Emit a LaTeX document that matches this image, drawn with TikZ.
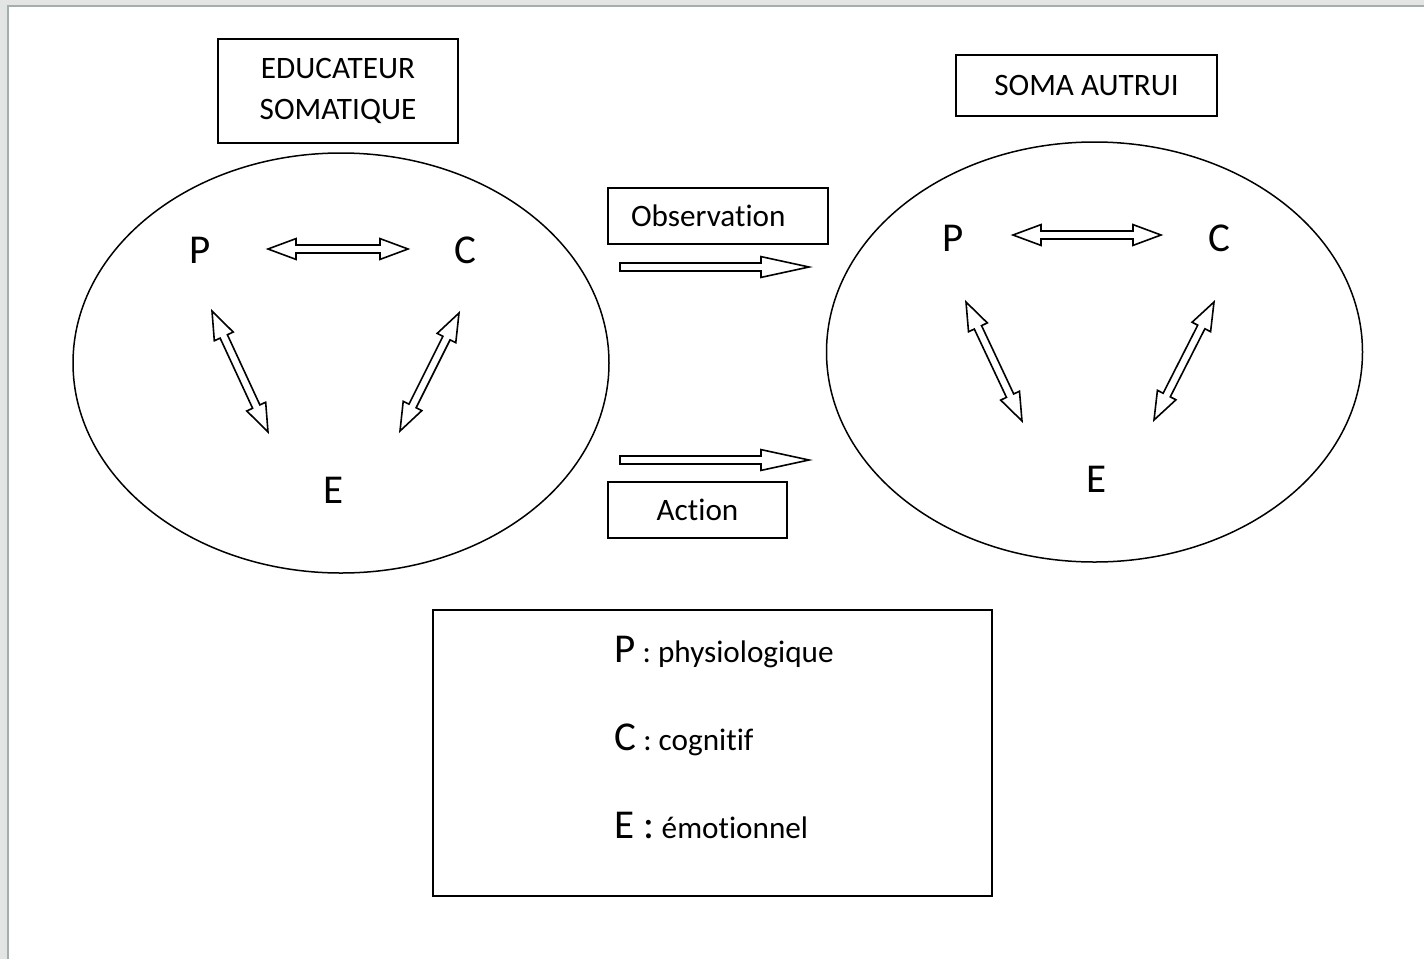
\documentclass[tikz,border=0pt]{standalone}
\usepackage{fontspec}
\setmainfont{Carlito}[RawFeature={-liga;-clig;-calt;-dlig}]
\usetikzlibrary{positioning,calc,shapes.geometric}

\definecolor{framegray}{RGB}{226,229,227}
\definecolor{frameline}{RGB}{165,175,170}

\newcommand{\labelfont}{\fontsize{15.6}{20.5}\selectfont}
\newcommand{\letterfont}{\fontsize{20.5}{24}\selectfont}

\tikzset{
	titlebox/.style={draw, line width=1pt, inner sep=0pt, font=\labelfont, align=center},
	soma/.style={draw, ellipse, line width=0.75pt, inner sep=0pt,
		minimum width=268pt, minimum height=210pt},
	letter/.style={font=\letterfont, inner sep=0pt},
	legendline/.style={anchor=base west, inner sep=0pt, font=\labelfont},
	% hollow double arrow between two points
	dblarrow/.style={draw, line width=0.8pt, fill=white, to path={
		-- ($(\tikztostart)!14pt!(\tikztotarget)!5.2pt!90:(\tikztotarget)$)
		-- ($(\tikztostart)!14pt!(\tikztotarget)!2pt!90:(\tikztotarget)$)
		-- ($(\tikztotarget)!14pt!(\tikztostart)!2pt!90:(\tikztotarget)$)
		-- ($(\tikztotarget)!14pt!(\tikztostart)!5.2pt!90:(\tikztotarget)$)
		-- (\tikztotarget)
		-- ($(\tikztotarget)!14pt!(\tikztostart)!5.2pt!-90:(\tikztotarget)$)
		-- ($(\tikztotarget)!14pt!(\tikztostart)!2pt!-90:(\tikztotarget)$)
		-- ($(\tikztostart)!14pt!(\tikztotarget)!2pt!-90:(\tikztotarget)$)
		-- ($(\tikztostart)!14pt!(\tikztotarget)!5.2pt!-90:(\tikztotarget)$)
		-- cycle}},
	% hollow single arrow between two points
	fatarrow/.style={draw, line width=0.8pt, fill=white, to path={
		-- ($(\tikztostart)!2pt!90:(\tikztotarget)$)
		-- ($(\tikztotarget)!24pt!(\tikztostart)!2pt!90:(\tikztotarget)$)
		-- ($(\tikztotarget)!24pt!(\tikztostart)!5.2pt!90:(\tikztotarget)$)
		-- (\tikztotarget)
		-- ($(\tikztotarget)!24pt!(\tikztostart)!5.2pt!-90:(\tikztotarget)$)
		-- ($(\tikztotarget)!24pt!(\tikztostart)!2pt!-90:(\tikztotarget)$)
		-- ($(\tikztostart)!2pt!-90:(\tikztotarget)$)
		-- cycle}},
}

\begin{document}
\begin{tikzpicture}[x=0.5pt, y=-0.5pt]

\useasboundingbox (0,0) rectangle (1424,959);

% Page frame
\fill[framegray] (0,0) rectangle (1424,959);
\fill[white] (8,6) rectangle (1424,959);
\draw[frameline, line width=0.6pt] (8,959) -- (8,6) -- (1424,6);

% Educateur somatique
\node [titlebox,
	minimum width=120pt,
	minimum height=52pt
] (educator_box) at (338,91) {
EDUCATEUR\\
SOMATIQUE
};

% Soma autrui
\node [titlebox,
	minimum width=130.5pt,
	minimum height=30.5pt
] (autrui_box) at (1086.5,85.5) {SOMA AUTRUI};

% Ellipses
\node [soma] (educator_soma) at (341,363) {};
\node [soma] (autrui_soma) at (1094.5,352) {};

% Letters, educateur
\node [letter] (educator_p) at (200,250) {P};
\node [letter] (educator_c) at (465,250) {C};
\node [letter] (educator_e) at (334,490) {E};

% Letters, autrui
\node [letter] (autrui_p) at (953,238) {P};
\node [letter] (autrui_c) at (1219,238) {C};
\node [letter] (autrui_e) at (1096,479) {E};

% Observation
\node [titlebox,
	minimum height=28pt,
	text width=87pt,
	inner xsep=11.5pt,
	align=left
] (observation) at (718,216) {Observation};

% Action
\node [titlebox,
	minimum width=89.5pt,
	minimum height=28pt
] (action) at (697.5,510) {Action};

% Legend
\node [draw,
	line width=1pt,
	minimum width=279.5pt,
	minimum height=143pt
] (legend) at (712.5,753) {};
\node [legendline] (legend_p) at (614,662) {{\letterfont P} : physiologique};
\node [legendline] (legend_c) at (614,750) {{\letterfont C} : cognitif};
\node [legendline] (legend_e) at (614,838) {{\letterfont E :} émotionnel};

% Arrow ends
\coordinate (educator_pc_a) at (268,249);
\coordinate (educator_pc_b) at (408,249);
\coordinate (educator_pe_a) at (212,311);
\coordinate (educator_pe_b) at (268,432);
\coordinate (educator_ce_a) at (459,313);
\coordinate (educator_ce_b) at (400,431);
\coordinate (autrui_pc_a) at (1013,235);
\coordinate (autrui_pc_b) at (1161,235);
\coordinate (autrui_pe_a) at (966,302);
\coordinate (autrui_pe_b) at (1022,421);
\coordinate (autrui_ce_a) at (1214,302);
\coordinate (autrui_ce_b) at (1154,420);
\coordinate (observation_a) at (620,267);
\coordinate (observation_b) at (809,267);
\coordinate (action_a) at (620,460);
\coordinate (action_b) at (809,460);

% Arrows
\draw[dblarrow] (educator_pc_a) to (educator_pc_b);
\draw[dblarrow] (educator_pe_a) to (educator_pe_b);
\draw[dblarrow] (educator_ce_a) to (educator_ce_b);
\draw[dblarrow] (autrui_pc_a) to (autrui_pc_b);
\draw[dblarrow] (autrui_pe_a) to (autrui_pe_b);
\draw[dblarrow] (autrui_ce_a) to (autrui_ce_b);
\draw[fatarrow] (observation_a) to (observation_b);
\draw[fatarrow] (action_a) to (action_b);

\end{tikzpicture}
\end{document}
